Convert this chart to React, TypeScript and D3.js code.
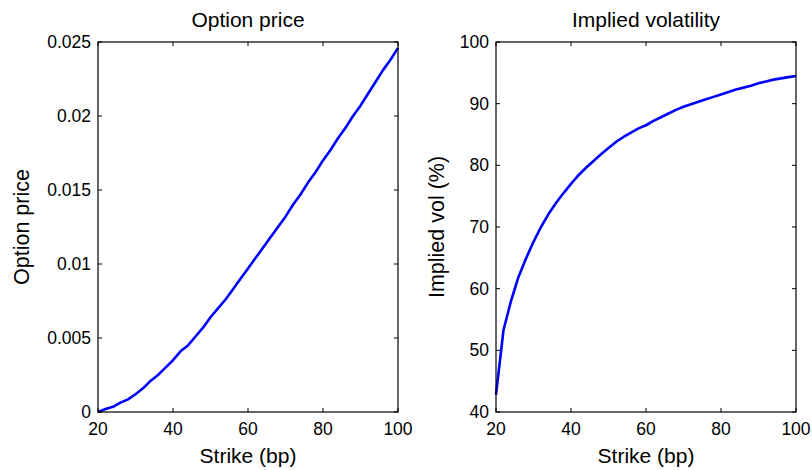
import * as d3 from "d3";

// strikes in basis points
const strikes = [
  20, 22, 24, 26, 28, 30, 32, 34, 36, 38, 40, 42, 44, 46, 48, 50, 52, 54, 56, 58, 60,
  62, 64, 66, 68, 70, 72, 74, 76, 78, 80, 82, 84, 86, 88, 90, 92, 94, 96, 98, 100,
];

const optionPrice = [
  0.0, 0.0002, 0.00035, 0.00063, 0.00085, 0.0012, 0.0016, 0.0021, 0.0025, 0.003, 0.0035,
  0.0041, 0.0045, 0.0051, 0.0057, 0.0064, 0.007, 0.0076, 0.0083, 0.009, 0.0097,
  0.0104, 0.0111, 0.0118, 0.0125, 0.0132, 0.014, 0.0147, 0.0155, 0.0162, 0.017,
  0.0177, 0.0185, 0.0192, 0.02, 0.0207, 0.0215, 0.0223, 0.0231, 0.0238, 0.0246,
];

const impliedVol = [
  42.8, 53.3, 58.0, 61.9, 64.9, 67.6, 70.0, 72.1, 73.9, 75.5, 77.0,
  78.4, 79.6, 80.7, 81.8, 82.8, 83.8, 84.6, 85.3, 86.0, 86.5,
  87.2, 87.8, 88.4, 89.0, 89.5, 89.9, 90.3, 90.7, 91.1, 91.5,
  91.9, 92.3, 92.6, 92.9, 93.3, 93.6, 93.9, 94.1, 94.3, 94.5,
];

const xTicks = [20, 40, 60, 80, 100];
const priceTicks = [0, 0.005, 0.01, 0.015, 0.02, 0.025];
const priceTickLabels = ["0", "0.005", "0.01", "0.015", "0.02", "0.025"];
const volTicks = [40, 50, 60, 70, 80, 90, 100];

const FONT = "'Liberation Sans', Arial, Helvetica, sans-serif";
const TOP = 42;
const BOTTOM = 412;
const TICK = 4;

type PanelProps = {
  left: number;
  right: number;
  values: number[];
  yDomain: [number, number];
  yTicks: number[];
  yTickLabels: string[];
  title: string;
  yLabel: string;
  yLabelX: number;
};

function Panel({ left, right, values, yDomain, yTicks, yTickLabels, title, yLabel, yLabelX }: PanelProps) {
  const x = d3.scaleLinear().domain([20, 100]).range([left, right]);
  const y = d3.scaleLinear().domain(yDomain).range([BOTTOM, TOP]);
  const line = d3
    .line<number>()
    .x((_, i) => x(strikes[i]))
    .y((d) => y(d));
  const cx = (left + right) / 2;
  const cy = (TOP + BOTTOM) / 2;

  return (
    <g fontFamily={FONT} fill="#000">
      <path d={line(values) ?? ""} fill="none" stroke="#0000ff" strokeWidth={2.6} strokeLinejoin="round" />
      <rect x={left} y={TOP} width={right - left} height={BOTTOM - TOP} fill="none" stroke="#000" strokeWidth={1.2} />
      {xTicks.map((t) => (
        <g key={"x" + t}>
          <line x1={x(t)} x2={x(t)} y1={BOTTOM} y2={BOTTOM - TICK} stroke="#000" />
          <line x1={x(t)} x2={x(t)} y1={TOP} y2={TOP + TICK} stroke="#000" />
          <text x={x(t)} y={BOTTOM + 23} fontSize={17.5} textAnchor="middle">
            {t}
          </text>
        </g>
      ))}
      {yTicks.map((t, i) => (
        <g key={"y" + t}>
          <line x1={left} x2={left + TICK} y1={y(t)} y2={y(t)} stroke="#000" />
          <line x1={right} x2={right - TICK} y1={y(t)} y2={y(t)} stroke="#000" />
          <text x={left - 7} y={y(t)} dy="0.34em" fontSize={17.5} textAnchor="end">
            {yTickLabels[i]}
          </text>
        </g>
      ))}
      <text x={cx} y={27} fontSize={21} textAnchor="middle">
        {title}
      </text>
      <text x={cx} y={463} fontSize={21} textAnchor="middle">
        Strike (bp)
      </text>
      <text transform={`translate(${yLabelX},${cy}) rotate(-90)`} fontSize={21.5} textAnchor="middle">
        {yLabel}
      </text>
    </g>
  );
}

export default function App() {
  return (
    <div style={{ position: "absolute", left: 0, top: 0 }}>
      <svg width={812} height={470} style={{ display: "block", background: "#fff" }}>
        <Panel
          left={98}
          right={398}
          values={optionPrice}
          yDomain={[0, 0.025]}
          yTicks={priceTicks}
          yTickLabels={priceTickLabels}
          title="Option price"
          yLabel="Option price"
          yLabelX={29}
        />
        <Panel
          left={496}
          right={796}
          values={impliedVol}
          yDomain={[40, 100]}
          yTicks={volTicks}
          yTickLabels={volTicks.map(String)}
          title="Implied volatility"
          yLabel="Implied vol (%)"
          yLabelX={444}
        />
      </svg>
    </div>
  );
}
